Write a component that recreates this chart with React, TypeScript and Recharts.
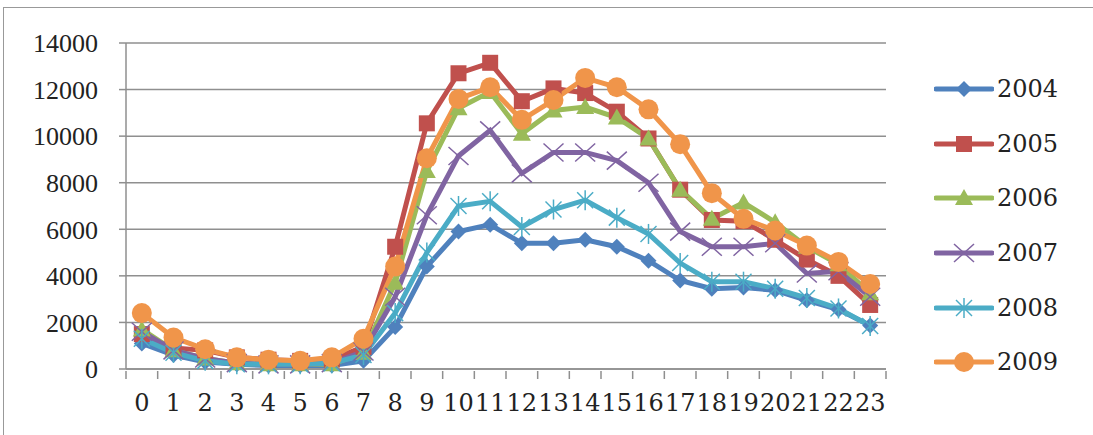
import React from 'react';
import { CartesianGrid, Line, LineChart, XAxis, YAxis } from 'recharts';

const hours = ['0', '1', '2', '3', '4', '5', '6', '7', '8', '9', '10', '11', '12', '13', '14', '15', '16', '17', '18', '19', '20', '21', '22', '23'];

const y2004 = [1100, 600, 300, 200, 150, 150, 150, 350, 1800, 4400, 5900, 6200, 5400, 5400, 5550, 5250, 4650, 3800, 3450, 3500, 3380, 2950, 2550, 1870];
const y2005 = [1500, 900, 800, 500, 400, 350, 400, 950, 5250, 10550, 12700, 13150, 11500, 12050, 11850, 11050, 9900, 7700, 6400, 6350, 5550, 4700, 4000, 2750];
const y2006 = [1700, 800, 450, 250, 200, 200, 200, 700, 3700, 8500, 11200, 11900, 10100, 11100, 11250, 10800, 9900, 7700, 6450, 7150, 6300, 5250, 4500, 3250];
const y2007 = [1600, 800, 450, 250, 200, 200, 250, 750, 3100, 6600, 9150, 10250, 8400, 9300, 9300, 8950, 8000, 5900, 5250, 5250, 5400, 4100, 4200, 3100];
const y2008 = [1300, 700, 350, 200, 200, 200, 250, 600, 2400, 5000, 7000, 7200, 6100, 6850, 7250, 6500, 5800, 4550, 3750, 3750, 3450, 3050, 2600, 1850];
const y2009 = [2400, 1350, 850, 500, 400, 350, 500, 1300, 4400, 9050, 11600, 12100, 10700, 11550, 12500, 12100, 11150, 9650, 7550, 6450, 5950, 5300, 4600, 3650];

const yTicks = [0, 2000, 4000, 6000, 8000, 10000, 12000, 14000];

const series = [
  { key: '2004', values: y2004, color: '#4F81BD', shape: 'diamond' },
  { key: '2005', values: y2005, color: '#C0504D', shape: 'square' },
  { key: '2006', values: y2006, color: '#9BBB59', shape: 'triangle' },
  { key: '2007', values: y2007, color: '#8064A2', shape: 'x' },
  { key: '2008', values: y2008, color: '#4BACC6', shape: 'star' },
  { key: '2009', values: y2009, color: '#F0954A', shape: 'circle' }
];

const data = hours.map((h, i) => {
  const row: Record<string, string | number> = { hour: h };
  series.forEach((s) => {
    row[s.key] = s.values[i];
  });
  return row;
});

const FONT = '"Liberation Serif", "DejaVu Serif", serif';
const WIDE_FONT = '"DejaVu Serif", "Liberation Serif", serif';
const W = 1093;
const H = 435;
const M = { top: 43, right: 207, bottom: 0, left: 0 };
const Y_AXIS_W = 126;
const X_AXIS_H = 66;
const BAND = (W - M.left - M.right - Y_AXIS_W) / hours.length;
const GRID = '#8f8f8f';

function Marker({ cx, cy, shape, color }: { cx: number; cy: number; shape: string; color: string }) {
  if (cx == null || cy == null) return null;
  switch (shape) {
    case 'diamond':
      return <polygon points={`${cx},${cy - 8} ${cx + 8},${cy} ${cx},${cy + 8} ${cx - 8},${cy}`} fill={color} />;
    case 'square':
      return <rect x={cx - 8} y={cy - 8} width={16} height={16} fill={color} />;
    case 'triangle':
      return <polygon points={`${cx},${cy - 9} ${cx + 9},${cy + 7} ${cx - 9},${cy + 7}`} fill={color} />;
    case 'x':
      return (
        <g stroke={color} strokeWidth={1.5}>
          <line x1={cx - 10} y1={cy - 9} x2={cx + 10} y2={cy + 9} />
          <line x1={cx - 10} y1={cy + 9} x2={cx + 10} y2={cy - 9} />
        </g>
      );
    case 'star':
      return (
        <g stroke={color} strokeWidth={1.5}>
          <line x1={cx - 8} y1={cy - 8} x2={cx + 8} y2={cy + 8} />
          <line x1={cx - 8} y1={cy + 8} x2={cx + 8} y2={cy - 8} />
          <line x1={cx} y1={cy - 10} x2={cx} y2={cy + 10} />
        </g>
      );
    default:
      return <circle cx={cx} cy={cy} r={10} fill={color} />;
  }
}

// category labels, with tick marks on the band edges like the original
function HourTick(props: any) {
  const { x, y, payload, index } = props;
  const axisY = y - 8;
  const left = x - BAND / 2;
  return (
    <g>
      <line x1={left} y1={axisY} x2={left} y2={axisY + 8} stroke={GRID} strokeWidth={1.5} />
      {index === hours.length - 1 && (
        <line x1={left + BAND} y1={axisY} x2={left + BAND} y2={axisY + 8} stroke={GRID} strokeWidth={1.5} />
      )}
      <text x={x} y={y + 15} dy="0.71em" textAnchor="middle" fontFamily={WIDE_FONT} fontSize={24} fill="#222">
        {payload.value}
      </text>
    </g>
  );
}

function LegendBox() {
  return (
    <div style={{ position: 'absolute', left: 934, top: 62 }}>
      {series.map((s) => (
        <div key={s.key} style={{ display: 'flex', alignItems: 'center', height: 54.6 }}>
          <svg width={60} height={30}>
            <line x1={2} y1={15} x2={58} y2={15} stroke={s.color} strokeWidth={5} strokeLinecap="round" />
            <Marker cx={30} cy={15} shape={s.shape} color={s.color} />
          </svg>
          <span style={{ fontFamily: WIDE_FONT, fontSize: 24, color: '#222', marginLeft: 3, lineHeight: 1 }}>{s.key}</span>
        </div>
      ))}
    </div>
  );
}

export default function App() {
  return (
    <div style={{ position: 'fixed', left: 0, top: 0, width: W, height: H, overflow: 'hidden', background: '#fff' }}>
      <div
        style={{
          position: 'absolute',
          left: 3,
          top: 7,
          width: W + 20,
          height: H + 20,
          borderLeft: '1.5px solid #999',
          borderTop: '1.5px solid #999'
        }}
      />
      <LineChart width={W} height={H} data={data} margin={M}>
        <CartesianGrid vertical={false} stroke={GRID} strokeWidth={1.5} />
        <XAxis
          dataKey="hour"
          height={X_AXIS_H}
          interval={0}
          padding={{ left: BAND / 2, right: BAND / 2 }}
          tickLine={false}
          tickSize={8}
          axisLine={{ stroke: GRID, strokeWidth: 1.5 }}
          tick={<HourTick />}
        />
        <YAxis
          width={Y_AXIS_W}
          domain={[0, 14000]}
          ticks={yTicks}
          interval={0}
          tickSize={7}
          tickMargin={21}
          tickLine={{ stroke: GRID, strokeWidth: 1.5 }}
          axisLine={{ stroke: GRID, strokeWidth: 1.5 }}
          tick={{ fontFamily: FONT, fontSize: 26, fill: '#222' }}
        />
        {series.map((s) => (
          <Line
            key={s.key}
            dataKey={s.key}
            stroke={s.color}
            strokeWidth={5}
            isAnimationActive={false}
            dot={(p: any) => <Marker key={`${s.key}-${p.index}`} cx={p.cx} cy={p.cy} shape={s.shape} color={s.color} />}
            activeDot={false}
          />
        ))}
      </LineChart>
      <LegendBox />
    </div>
  );
}
